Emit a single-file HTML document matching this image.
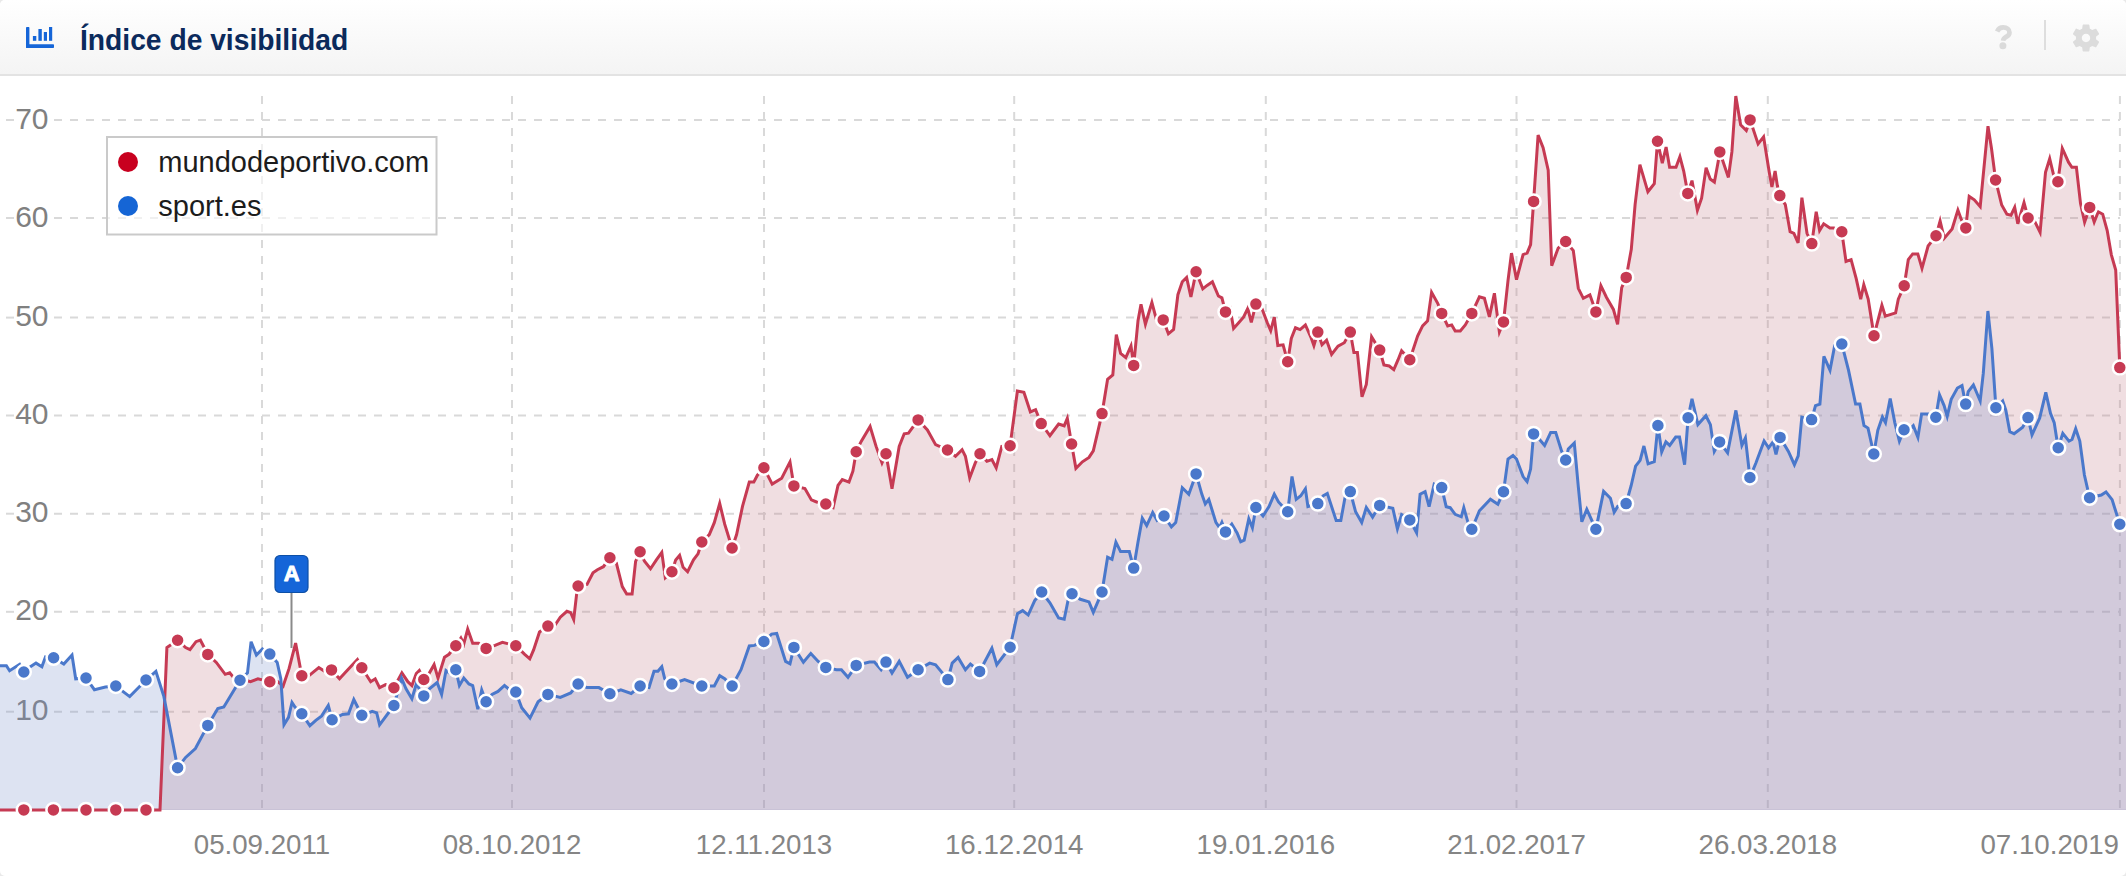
<!DOCTYPE html>
<html lang="es"><head><meta charset="utf-8"><title>Índice de visibilidad</title>
<style>
html,body{margin:0;padding:0;}
body{width:2126px;height:876px;overflow:hidden;background:#e9e9e9;position:relative;font-family:"Liberation Sans",Arial,sans-serif;}
.card{position:absolute;left:0;top:0;width:2126px;height:876px;background:#fff;border-radius:5px;overflow:hidden;}
.header{position:absolute;left:0;top:0;width:2126px;height:74px;background:linear-gradient(#ffffff,#f4f4f4);border-bottom:2px solid #e3e3e3;}
.hicon{position:absolute;left:26px;top:27px;}
.title{position:absolute;left:79.5px;top:21.8px;transform:scaleX(0.98);transform-origin:0 0;margin:0;font-size:28.8px;font-weight:bold;color:#0b2a5c;white-space:nowrap;line-height:36px;}
.qicon{position:absolute;left:1992px;top:21.9px;}
.sep{position:absolute;left:2044px;top:20px;width:2px;height:30px;background:#dedede;}
.gicon{position:absolute;left:2072.2px;top:23.9px;}
.chart{position:absolute;left:0;top:0;}
</style></head><body>
<div class="card">
<svg class="chart" width="2126" height="876" viewBox="0 0 2126 876"><g stroke="#d9d9d9" stroke-width="2" fill="none"><line x1="6" y1="120.0" x2="14" y2="120.0"/><line x1="54" y1="120.0" x2="2120" y2="120.0" stroke-dasharray="8 8"/><line x1="6" y1="218.0" x2="14" y2="218.0"/><line x1="54" y1="218.0" x2="2120" y2="218.0" stroke-dasharray="8 8"/><line x1="6" y1="317.6" x2="14" y2="317.6"/><line x1="54" y1="317.6" x2="2120" y2="317.6" stroke-dasharray="8 8"/><line x1="6" y1="415.5" x2="14" y2="415.5"/><line x1="54" y1="415.5" x2="2120" y2="415.5" stroke-dasharray="8 8"/><line x1="6" y1="513.7" x2="14" y2="513.7"/><line x1="54" y1="513.7" x2="2120" y2="513.7" stroke-dasharray="8 8"/><line x1="6" y1="611.8" x2="14" y2="611.8"/><line x1="54" y1="611.8" x2="2120" y2="611.8" stroke-dasharray="8 8"/><line x1="6" y1="711.7" x2="14" y2="711.7"/><line x1="54" y1="711.7" x2="2120" y2="711.7" stroke-dasharray="8 8"/><line x1="262" y1="96" x2="262" y2="810" stroke-dasharray="8 8"/><line x1="512" y1="96" x2="512" y2="810" stroke-dasharray="8 8"/><line x1="764" y1="96" x2="764" y2="810" stroke-dasharray="8 8"/><line x1="1014.2" y1="96" x2="1014.2" y2="810" stroke-dasharray="8 8"/><line x1="1265.8" y1="96" x2="1265.8" y2="810" stroke-dasharray="8 8"/><line x1="1516.5" y1="96" x2="1516.5" y2="810" stroke-dasharray="8 8"/><line x1="1767.8" y1="96" x2="1767.8" y2="810" stroke-dasharray="8 8"/><line x1="2119.9" y1="96" x2="2119.9" y2="810" stroke-dasharray="8 8"/></g><g font-family="Liberation Sans, Arial, sans-serif" font-size="30" fill="#808080" text-anchor="end"><text x="48.5" y="128.6">70</text><text x="48.5" y="226.6">60</text><text x="48.5" y="326.2">50</text><text x="48.5" y="424.1">40</text><text x="48.5" y="522.3">30</text><text x="48.5" y="620.4">20</text><text x="48.5" y="720.3">10</text></g><path d="M0,810 L0,809.9 L23.8,809.9 L53.4,809.9 L86,809.9 L115.8,809.9 L146,809.9 L160,809.9 L166.9,647.6 L177.6,640.2 L185.6,647.6 L190,649.7 L196,641.7 L200.4,640.2 L207.8,654.4 L216.3,662.4 L225.2,674.3 L229.7,672.8 L232.7,676.4 L240,678.8 L250.5,681.7 L257.9,678.8 L269.8,681.7 L277.8,681.7 L283.1,686.2 L289.1,668.4 L295.6,643.1 L301.8,675.8 L306.9,677.3 L318.8,667.5 L324.7,671.3 L331.5,669.9 L339.5,678.8 L345.5,672.2 L357.4,659.5 L361.8,667.8 L370.7,681.7 L375.2,678.8 L379.6,687.7 L385.6,684.7 L393.9,687.7 L401.9,672.8 L407.8,681.7 L411.9,685.5 L416.3,673.6 L419.3,670.6 L423.8,679.5 L428.2,675.1 L434.1,664.7 L438,678.1 L444.5,657.3 L449,654.3 L455.8,645.7 L460.9,638 L463.8,643.9 L467.7,629.1 L472.7,643.3 L478.7,643.3 L486.1,648.4 L495,645.4 L502.4,642.4 L515.8,645.7 L524.7,654.3 L529.8,658.8 L533.6,649.9 L539.5,632 L547.9,626.1 L554.4,626.1 L560.3,617.2 L566.9,611.3 L570.7,612.7 L573.7,619.6 L576.7,593.4 L578.1,586 L587,584.5 L593,572.7 L597.4,569.7 L603.4,566.7 L609.9,557.8 L616.3,562.8 L622.3,586.6 L626.7,594 L632.1,594 L635.6,561.3 L640.1,551.8 L644.5,561.3 L650.5,568.8 L656.4,559.9 L661.8,552.4 L665.3,577.7 L671.9,571.7 L675.7,559.9 L679.6,555.4 L683.1,567.3 L687.6,571.7 L693.5,559.9 L698,553.9 L701.8,542 L709.3,534.6 L714.3,522.7 L719.7,503.4 L724.7,524.2 L732.1,548 L736.6,534.6 L742.5,506.4 L749.3,482.1 L753.8,482.1 L757.4,475.2 L763.9,467.8 L772.2,484.1 L781.7,478.2 L790,461.9 L793.9,485.9 L804.9,488.6 L811.4,499.9 L816.6,502 L825.8,504 L833.1,507.6 L838,485.4 L842.3,479.5 L849,482.1 L852.9,471.2 L856.2,451.7 L861.2,441.4 L870.1,426.5 L876.1,446.4 L882,462.9 L886,453.7 L892,488.7 L899.2,446.4 L904.2,433.8 L908.5,433.2 L918.1,419.9 L927.4,429.9 L935.6,444.7 L947.5,450 L955.5,456.3 L962.1,449.7 L965.4,456.3 L969.7,477.8 L975.3,462.9 L980,453.7 L986.9,461.3 L991.9,459.6 L996.2,467.9 L1001.8,446.4 L1010.1,445.7 L1017.4,391 L1023.9,392.3 L1030.4,411.9 L1035.6,409.7 L1041.2,423.6 L1049.9,435.7 L1058.6,424 L1064.2,425.8 L1067.3,418.4 L1071.6,444 L1075.9,468.3 L1082.4,461.8 L1089,457.4 L1093.3,450.9 L1102,413.6 L1107.6,379.3 L1112.8,375 L1116.3,334.6 L1120.6,353.3 L1125.8,357.6 L1131,345.9 L1133.7,365.4 L1138,320.8 L1141,304.3 L1145.4,324.2 L1151.9,302.5 L1156.2,318.6 L1163.2,319.9 L1168.4,333.8 L1173.6,329.4 L1177.9,294.7 L1182.3,281.7 L1186.6,277.4 L1190.9,296.9 L1196.1,271.7 L1202.8,288.9 L1207.1,285.4 L1212.4,281.8 L1218.4,296 L1221.9,297.8 L1225.5,311.9 L1230.1,308.4 L1233.6,328.5 L1238.9,322.5 L1243.5,317.2 L1247.8,308.4 L1251.3,322.5 L1255.9,304.1 L1261.9,308.4 L1267.2,322.5 L1270.7,330.7 L1274.3,317.2 L1277.8,345.5 L1283.1,344.8 L1287.7,361.8 L1291.3,338.4 L1295.5,327.8 L1300.1,329.6 L1305.4,325 L1311.4,338.4 L1313.9,345.5 L1317.8,332.1 L1322,344.8 L1326.6,340.2 L1331.6,354.4 L1338,346.2 L1344.3,342.7 L1350.3,332.1 L1353.9,352.6 L1357.4,352.6 L1362,396.8 L1366.3,384.4 L1371.6,336.7 L1379.7,350.1 L1383.9,365 L1389.2,366 L1393.8,369.6 L1398.1,359.7 L1401.6,350.8 L1409.8,359.7 L1417.6,336 L1422.6,325.9 L1427.6,320.9 L1431.6,292.3 L1437.7,303.3 L1441.7,313.4 L1447.7,325.9 L1451.7,324.9 L1455.2,330.9 L1460.3,330.9 L1465.3,324.9 L1471.8,313.4 L1479.4,296.8 L1484.4,298.3 L1489.4,316.9 L1494.4,293.3 L1499.4,332 L1503.5,321.9 L1508,280.7 L1511.5,253.1 L1516.5,279.7 L1523.1,254.6 L1527.1,253.1 L1530.6,244.6 L1533.6,201.4 L1538.1,135.1 L1543.1,147.6 L1548.2,170.2 L1551.7,265.7 L1558.2,248.1 L1565.7,241.5 L1573.3,250.6 L1578.3,288.3 L1583.3,298.3 L1589.9,294.8 L1595.9,311.9 L1600.9,285.7 L1606.4,297.2 L1613.4,309.4 L1617.6,324.4 L1621.7,287.6 L1626.2,277.4 L1631.3,249.3 L1635.1,204.6 L1639.9,164.7 L1647.9,191.8 L1654.3,183.8 L1657.5,141.3 L1662.3,163.1 L1666.1,147.1 L1669.6,167.2 L1676,167.2 L1679.9,156.7 L1683.7,171 L1687.8,193.4 L1692,180.6 L1697.4,210.3 L1701.6,198.2 L1706.1,167.8 L1710.2,179 L1714.4,182.2 L1718.2,161.5 L1719.8,151.9 L1724.6,166.3 L1728.4,177.4 L1731.9,151.9 L1735.8,96 L1740.6,124.7 L1746.3,130.5 L1750.1,119.9 L1758.1,143.9 L1763.6,136.9 L1769.3,172.6 L1771.9,187 L1775.1,171 L1777.3,185.4 L1779.8,195.6 L1785.3,204.6 L1790.1,231.7 L1793.9,233.3 L1798.1,242.9 L1801.9,197.6 L1807,233.3 L1811.8,243.6 L1816.2,211.8 L1819.6,230.6 L1823.7,223.8 L1829.9,227.9 L1834,227.9 L1841.8,231.7 L1846,261.5 L1851.1,259.7 L1856.2,278.6 L1860.7,299.1 L1863.8,284.7 L1868.2,299.1 L1874,335.7 L1881.9,305.3 L1885.3,316.2 L1895.6,312.8 L1898.3,299.1 L1904.2,285.8 L1908.3,259.7 L1912.7,253.9 L1917.8,253.9 L1922,268.3 L1928.1,246 L1936,235.8 L1940.1,221.1 L1944.2,238.2 L1952.1,228.9 L1957.9,210.1 L1961.7,220.4 L1965.8,227.9 L1969.2,196.4 L1974.3,199.8 L1980.2,206.7 L1988,126.2 L1991.5,148.5 L1995.6,180 L2001.7,205 L2006.9,214.2 L2011,215.2 L2014.7,207.4 L2017.8,223.8 L2024,202.6 L2028.1,218 L2034.2,220.4 L2040.1,232.4 L2045.5,172.4 L2049.7,158.7 L2053.8,175.9 L2057.9,181.7 L2062.3,148.5 L2068.5,162.2 L2071.9,167.3 L2076.4,167.3 L2080.5,203.3 L2084.6,222.1 L2089.7,207.4 L2094.2,222.1 L2098.3,211.8 L2102.7,214.2 L2107.2,230.6 L2111.3,254.6 L2115.7,270 L2119.8,367.6 L2126,367.6 L2126,810 Z" fill="rgba(195,123,135,0.25)"/><path d="M0,810 L0,665.8 L6.4,665.8 L9.6,670.7 L19.6,664.3 L23.8,672 L30.4,666.7 L36,663.1 L41.9,666.7 L45.5,656.8 L53.6,657.8 L63.8,664 L72,655 L75.7,678.8 L86,678 L94.4,689.7 L105.4,687 L115.8,686 L129.7,696.6 L146,680 L155.9,671.3 L163.9,696.6 L177.6,767.8 L185.6,757.4 L195.4,748.5 L207.8,725.4 L217.8,708.5 L223.8,707 L240,680.2 L247.5,672.8 L251.1,641.7 L256.4,655 L262.4,649 L269.8,654.1 L277.2,662.4 L280.8,678.8 L284,724.8 L288.5,717.4 L292,702.5 L295,707 L301.8,713.8 L309.9,725.7 L315.8,720.3 L321.7,715.9 L328.3,705.5 L332.1,719.7 L342.5,714.4 L348.5,713.8 L353.8,699.5 L361.8,715.3 L372.2,711.4 L376.7,712.9 L379.6,724.8 L393.9,705.5 L401.5,678 L405.9,688.5 L411.9,698.8 L416.3,684 L423.8,695.9 L429.7,688.5 L437.1,682.5 L441.6,694.4 L446,670.6 L450.5,673.6 L455.8,669.7 L459.4,685.5 L463.8,678.1 L468.9,684 L472.7,685.5 L477.8,709.2 L481.7,689.9 L486.1,701.8 L492,694.4 L498,691.4 L504.5,685.5 L509.9,689.9 L515.8,692 L521.7,707.8 L530,718.1 L538.1,701.8 L547.9,694.4 L560.3,697.4 L570.7,692.9 L578.1,684 L587,687.6 L598.9,687.6 L609.9,693.8 L620.8,689.9 L631.2,693.5 L640.1,686 L649,687.5 L654,671.2 L657.9,671.2 L661.8,666.7 L664.7,678.6 L671.9,684 L684.6,679.5 L701.8,686 L714.3,686 L719.7,675.7 L724.7,678.6 L732.1,686 L741,669.7 L749.3,646 L754.4,645.4 L763.9,641.5 L771.6,634.1 L776.7,633.5 L785.6,661.4 L790,663.8 L793.9,647.4 L803.4,662.3 L810.8,653.4 L818.2,661.4 L825.8,667.4 L836.4,669.7 L841.4,669.7 L848,677.3 L856.2,665.4 L869.5,662.1 L874.4,662.1 L881.1,669.7 L886,662.1 L892,673 L899.2,661.4 L907.5,677.3 L918.1,669.7 L929.7,663.1 L935.6,664.7 L947.9,679.6 L952.2,663.1 L958.1,657.5 L965.4,669.7 L970.4,664.1 L979.6,671.4 L991.9,648.2 L996.8,664.7 L1010.1,647.2 L1017.4,613.7 L1022.6,610.6 L1028.2,615 L1034.7,600.6 L1041.7,592 L1049.9,602.8 L1058.6,618 L1064.2,619.3 L1068.6,597.6 L1072,593.7 L1080.3,599.3 L1089,601.9 L1093.3,612.4 L1102,592 L1107.6,557.2 L1112,559.4 L1115.9,542.1 L1120.6,551.6 L1129.3,551.6 L1133.7,568.1 L1138,542.1 L1142.3,518.2 L1146.7,525.6 L1152.7,512.6 L1157.1,520.4 L1164,516 L1171.4,526.9 L1175.7,522.5 L1182.3,487.8 L1188.8,494.3 L1196.1,473.9 L1201.8,494.1 L1205.3,504 L1208.8,499.4 L1215.9,522.4 L1219.5,527.7 L1221.9,522.4 L1225.5,531.9 L1231.8,524.1 L1237.1,533 L1240.7,541.8 L1244.2,540.1 L1248.8,518.8 L1252.4,527.7 L1255.9,507.5 L1263,516 L1269,506.5 L1274.3,494.1 L1278.5,501.9 L1287.7,511.8 L1292,476.4 L1296.2,499.4 L1300.8,495.8 L1305.4,488.8 L1307.9,506.5 L1317.8,503.6 L1323.1,495.8 L1327.3,493.4 L1336.2,520.6 L1340.8,520.6 L1345,497.6 L1350.3,491.6 L1355.6,511.8 L1361.7,522.4 L1366.3,507.5 L1372.6,517.1 L1379.7,505.4 L1392.8,508.2 L1397.4,528.7 L1401.6,514.6 L1409.8,519.9 L1416.6,532.9 L1420.1,494.2 L1425.1,491.7 L1429.1,506.7 L1434.2,484.1 L1441.7,487.6 L1446.2,506.7 L1450.2,507.7 L1455.2,514.3 L1461.3,516.8 L1463.8,507.7 L1467.8,521.8 L1471.8,529.3 L1479.4,510.8 L1490.4,499.2 L1497.9,504.2 L1503.5,491.7 L1508,459 L1513,455.5 L1516.5,459 L1523.1,476.6 L1527.1,481.6 L1530.6,469.1 L1533.6,433.9 L1538.1,437.9 L1544.6,445.5 L1550.7,432.4 L1555.7,432.4 L1561.7,451.5 L1565.7,460 L1568.3,449 L1574.3,443 L1578.3,486.7 L1581.8,521.8 L1586.8,509.3 L1595.9,529.3 L1603.6,491.4 L1610.4,498.2 L1614.2,512.2 L1617.8,506.3 L1626.1,503.6 L1631.2,485.5 L1635.6,466.2 L1640.1,460.3 L1643.9,446 L1648.1,463.8 L1654.3,461.7 L1657.9,425.5 L1661.7,451.9 L1665.9,441.9 L1669.7,445.4 L1675.7,437.1 L1679.5,437.1 L1684.6,464.7 L1688.1,417.8 L1692,398.8 L1697.9,424.6 L1705.9,415.7 L1710.4,424.6 L1714.3,451.4 L1719.6,441.9 L1727.6,452.8 L1735.9,410.4 L1741.9,445.4 L1745.4,438 L1749.9,477.5 L1755.8,463.2 L1764.1,441 L1768.6,447.8 L1773,441.9 L1776,454.3 L1780.1,437.4 L1788.4,451.4 L1794.4,464.7 L1798.2,455.8 L1801.8,417.2 L1811.6,419.6 L1815.5,405.6 L1819.9,404.1 L1823.9,356.3 L1830,370.2 L1834.7,345.5 L1841.8,344 L1848.5,370.2 L1855.6,404.1 L1859.9,404.1 L1864,425.6 L1868,428.1 L1873.8,454 L1877.8,430.3 L1882.4,417 L1885.5,422.6 L1890.2,398.5 L1894.8,422.6 L1899.4,441.1 L1904,429.7 L1908.7,430.3 L1913.3,425.6 L1917.9,437.4 L1921.6,413.9 L1928.7,413.9 L1935.8,417.3 L1939.5,394.8 L1944.1,405.6 L1947.2,416.4 L1951.2,399.4 L1957.4,388 L1962,385.6 L1964.1,396.4 L1965.7,404.1 L1968.2,391.7 L1973.4,385 L1980.2,401 L1983.3,373.2 L1987.9,311 L1991.9,348.6 L1995.9,407.8 L2002.7,401 L2005.8,410.2 L2009.8,431.8 L2014.1,433.7 L2022.7,427.2 L2028,417.6 L2032,434.9 L2039.7,417.9 L2045.8,392.4 L2050.5,413.3 L2054.2,422.6 L2056.6,438 L2058.2,447.8 L2062.8,433.4 L2069,441.1 L2072,439.5 L2075.7,428.7 L2079.8,441.1 L2084.4,475 L2089.6,497.8 L2101.3,495 L2106,491.9 L2112.1,499.6 L2119.8,524.3 L2126,524.3 L2126,810 Z" fill="rgba(119,143,203,0.25)"/><line x1="0" y1="809.5" x2="2126" y2="809.5" stroke="#c9c2d6" stroke-width="1"/><polyline points="0,809.9 23.8,809.9 53.4,809.9 86,809.9 115.8,809.9 146,809.9 160,809.9 166.9,647.6 177.6,640.2 185.6,647.6 190,649.7 196,641.7 200.4,640.2 207.8,654.4 216.3,662.4 225.2,674.3 229.7,672.8 232.7,676.4 240,678.8 250.5,681.7 257.9,678.8 269.8,681.7 277.8,681.7 283.1,686.2 289.1,668.4 295.6,643.1 301.8,675.8 306.9,677.3 318.8,667.5 324.7,671.3 331.5,669.9 339.5,678.8 345.5,672.2 357.4,659.5 361.8,667.8 370.7,681.7 375.2,678.8 379.6,687.7 385.6,684.7 393.9,687.7 401.9,672.8 407.8,681.7 411.9,685.5 416.3,673.6 419.3,670.6 423.8,679.5 428.2,675.1 434.1,664.7 438,678.1 444.5,657.3 449,654.3 455.8,645.7 460.9,638 463.8,643.9 467.7,629.1 472.7,643.3 478.7,643.3 486.1,648.4 495,645.4 502.4,642.4 515.8,645.7 524.7,654.3 529.8,658.8 533.6,649.9 539.5,632 547.9,626.1 554.4,626.1 560.3,617.2 566.9,611.3 570.7,612.7 573.7,619.6 576.7,593.4 578.1,586 587,584.5 593,572.7 597.4,569.7 603.4,566.7 609.9,557.8 616.3,562.8 622.3,586.6 626.7,594 632.1,594 635.6,561.3 640.1,551.8 644.5,561.3 650.5,568.8 656.4,559.9 661.8,552.4 665.3,577.7 671.9,571.7 675.7,559.9 679.6,555.4 683.1,567.3 687.6,571.7 693.5,559.9 698,553.9 701.8,542 709.3,534.6 714.3,522.7 719.7,503.4 724.7,524.2 732.1,548 736.6,534.6 742.5,506.4 749.3,482.1 753.8,482.1 757.4,475.2 763.9,467.8 772.2,484.1 781.7,478.2 790,461.9 793.9,485.9 804.9,488.6 811.4,499.9 816.6,502 825.8,504 833.1,507.6 838,485.4 842.3,479.5 849,482.1 852.9,471.2 856.2,451.7 861.2,441.4 870.1,426.5 876.1,446.4 882,462.9 886,453.7 892,488.7 899.2,446.4 904.2,433.8 908.5,433.2 918.1,419.9 927.4,429.9 935.6,444.7 947.5,450 955.5,456.3 962.1,449.7 965.4,456.3 969.7,477.8 975.3,462.9 980,453.7 986.9,461.3 991.9,459.6 996.2,467.9 1001.8,446.4 1010.1,445.7 1017.4,391 1023.9,392.3 1030.4,411.9 1035.6,409.7 1041.2,423.6 1049.9,435.7 1058.6,424 1064.2,425.8 1067.3,418.4 1071.6,444 1075.9,468.3 1082.4,461.8 1089,457.4 1093.3,450.9 1102,413.6 1107.6,379.3 1112.8,375 1116.3,334.6 1120.6,353.3 1125.8,357.6 1131,345.9 1133.7,365.4 1138,320.8 1141,304.3 1145.4,324.2 1151.9,302.5 1156.2,318.6 1163.2,319.9 1168.4,333.8 1173.6,329.4 1177.9,294.7 1182.3,281.7 1186.6,277.4 1190.9,296.9 1196.1,271.7 1202.8,288.9 1207.1,285.4 1212.4,281.8 1218.4,296 1221.9,297.8 1225.5,311.9 1230.1,308.4 1233.6,328.5 1238.9,322.5 1243.5,317.2 1247.8,308.4 1251.3,322.5 1255.9,304.1 1261.9,308.4 1267.2,322.5 1270.7,330.7 1274.3,317.2 1277.8,345.5 1283.1,344.8 1287.7,361.8 1291.3,338.4 1295.5,327.8 1300.1,329.6 1305.4,325 1311.4,338.4 1313.9,345.5 1317.8,332.1 1322,344.8 1326.6,340.2 1331.6,354.4 1338,346.2 1344.3,342.7 1350.3,332.1 1353.9,352.6 1357.4,352.6 1362,396.8 1366.3,384.4 1371.6,336.7 1379.7,350.1 1383.9,365 1389.2,366 1393.8,369.6 1398.1,359.7 1401.6,350.8 1409.8,359.7 1417.6,336 1422.6,325.9 1427.6,320.9 1431.6,292.3 1437.7,303.3 1441.7,313.4 1447.7,325.9 1451.7,324.9 1455.2,330.9 1460.3,330.9 1465.3,324.9 1471.8,313.4 1479.4,296.8 1484.4,298.3 1489.4,316.9 1494.4,293.3 1499.4,332 1503.5,321.9 1508,280.7 1511.5,253.1 1516.5,279.7 1523.1,254.6 1527.1,253.1 1530.6,244.6 1533.6,201.4 1538.1,135.1 1543.1,147.6 1548.2,170.2 1551.7,265.7 1558.2,248.1 1565.7,241.5 1573.3,250.6 1578.3,288.3 1583.3,298.3 1589.9,294.8 1595.9,311.9 1600.9,285.7 1606.4,297.2 1613.4,309.4 1617.6,324.4 1621.7,287.6 1626.2,277.4 1631.3,249.3 1635.1,204.6 1639.9,164.7 1647.9,191.8 1654.3,183.8 1657.5,141.3 1662.3,163.1 1666.1,147.1 1669.6,167.2 1676,167.2 1679.9,156.7 1683.7,171 1687.8,193.4 1692,180.6 1697.4,210.3 1701.6,198.2 1706.1,167.8 1710.2,179 1714.4,182.2 1718.2,161.5 1719.8,151.9 1724.6,166.3 1728.4,177.4 1731.9,151.9 1735.8,96 1740.6,124.7 1746.3,130.5 1750.1,119.9 1758.1,143.9 1763.6,136.9 1769.3,172.6 1771.9,187 1775.1,171 1777.3,185.4 1779.8,195.6 1785.3,204.6 1790.1,231.7 1793.9,233.3 1798.1,242.9 1801.9,197.6 1807,233.3 1811.8,243.6 1816.2,211.8 1819.6,230.6 1823.7,223.8 1829.9,227.9 1834,227.9 1841.8,231.7 1846,261.5 1851.1,259.7 1856.2,278.6 1860.7,299.1 1863.8,284.7 1868.2,299.1 1874,335.7 1881.9,305.3 1885.3,316.2 1895.6,312.8 1898.3,299.1 1904.2,285.8 1908.3,259.7 1912.7,253.9 1917.8,253.9 1922,268.3 1928.1,246 1936,235.8 1940.1,221.1 1944.2,238.2 1952.1,228.9 1957.9,210.1 1961.7,220.4 1965.8,227.9 1969.2,196.4 1974.3,199.8 1980.2,206.7 1988,126.2 1991.5,148.5 1995.6,180 2001.7,205 2006.9,214.2 2011,215.2 2014.7,207.4 2017.8,223.8 2024,202.6 2028.1,218 2034.2,220.4 2040.1,232.4 2045.5,172.4 2049.7,158.7 2053.8,175.9 2057.9,181.7 2062.3,148.5 2068.5,162.2 2071.9,167.3 2076.4,167.3 2080.5,203.3 2084.6,222.1 2089.7,207.4 2094.2,222.1 2098.3,211.8 2102.7,214.2 2107.2,230.6 2111.3,254.6 2115.7,270 2119.8,367.6" fill="none" stroke="#c63a53" stroke-width="3" stroke-linejoin="miter" stroke-miterlimit="4" stroke-linecap="butt"/><polyline points="0,665.8 6.4,665.8 9.6,670.7 19.6,664.3 23.8,672 30.4,666.7 36,663.1 41.9,666.7 45.5,656.8 53.6,657.8 63.8,664 72,655 75.7,678.8 86,678 94.4,689.7 105.4,687 115.8,686 129.7,696.6 146,680 155.9,671.3 163.9,696.6 177.6,767.8 185.6,757.4 195.4,748.5 207.8,725.4 217.8,708.5 223.8,707 240,680.2 247.5,672.8 251.1,641.7 256.4,655 262.4,649 269.8,654.1 277.2,662.4 280.8,678.8 284,724.8 288.5,717.4 292,702.5 295,707 301.8,713.8 309.9,725.7 315.8,720.3 321.7,715.9 328.3,705.5 332.1,719.7 342.5,714.4 348.5,713.8 353.8,699.5 361.8,715.3 372.2,711.4 376.7,712.9 379.6,724.8 393.9,705.5 401.5,678 405.9,688.5 411.9,698.8 416.3,684 423.8,695.9 429.7,688.5 437.1,682.5 441.6,694.4 446,670.6 450.5,673.6 455.8,669.7 459.4,685.5 463.8,678.1 468.9,684 472.7,685.5 477.8,709.2 481.7,689.9 486.1,701.8 492,694.4 498,691.4 504.5,685.5 509.9,689.9 515.8,692 521.7,707.8 530,718.1 538.1,701.8 547.9,694.4 560.3,697.4 570.7,692.9 578.1,684 587,687.6 598.9,687.6 609.9,693.8 620.8,689.9 631.2,693.5 640.1,686 649,687.5 654,671.2 657.9,671.2 661.8,666.7 664.7,678.6 671.9,684 684.6,679.5 701.8,686 714.3,686 719.7,675.7 724.7,678.6 732.1,686 741,669.7 749.3,646 754.4,645.4 763.9,641.5 771.6,634.1 776.7,633.5 785.6,661.4 790,663.8 793.9,647.4 803.4,662.3 810.8,653.4 818.2,661.4 825.8,667.4 836.4,669.7 841.4,669.7 848,677.3 856.2,665.4 869.5,662.1 874.4,662.1 881.1,669.7 886,662.1 892,673 899.2,661.4 907.5,677.3 918.1,669.7 929.7,663.1 935.6,664.7 947.9,679.6 952.2,663.1 958.1,657.5 965.4,669.7 970.4,664.1 979.6,671.4 991.9,648.2 996.8,664.7 1010.1,647.2 1017.4,613.7 1022.6,610.6 1028.2,615 1034.7,600.6 1041.7,592 1049.9,602.8 1058.6,618 1064.2,619.3 1068.6,597.6 1072,593.7 1080.3,599.3 1089,601.9 1093.3,612.4 1102,592 1107.6,557.2 1112,559.4 1115.9,542.1 1120.6,551.6 1129.3,551.6 1133.7,568.1 1138,542.1 1142.3,518.2 1146.7,525.6 1152.7,512.6 1157.1,520.4 1164,516 1171.4,526.9 1175.7,522.5 1182.3,487.8 1188.8,494.3 1196.1,473.9 1201.8,494.1 1205.3,504 1208.8,499.4 1215.9,522.4 1219.5,527.7 1221.9,522.4 1225.5,531.9 1231.8,524.1 1237.1,533 1240.7,541.8 1244.2,540.1 1248.8,518.8 1252.4,527.7 1255.9,507.5 1263,516 1269,506.5 1274.3,494.1 1278.5,501.9 1287.7,511.8 1292,476.4 1296.2,499.4 1300.8,495.8 1305.4,488.8 1307.9,506.5 1317.8,503.6 1323.1,495.8 1327.3,493.4 1336.2,520.6 1340.8,520.6 1345,497.6 1350.3,491.6 1355.6,511.8 1361.7,522.4 1366.3,507.5 1372.6,517.1 1379.7,505.4 1392.8,508.2 1397.4,528.7 1401.6,514.6 1409.8,519.9 1416.6,532.9 1420.1,494.2 1425.1,491.7 1429.1,506.7 1434.2,484.1 1441.7,487.6 1446.2,506.7 1450.2,507.7 1455.2,514.3 1461.3,516.8 1463.8,507.7 1467.8,521.8 1471.8,529.3 1479.4,510.8 1490.4,499.2 1497.9,504.2 1503.5,491.7 1508,459 1513,455.5 1516.5,459 1523.1,476.6 1527.1,481.6 1530.6,469.1 1533.6,433.9 1538.1,437.9 1544.6,445.5 1550.7,432.4 1555.7,432.4 1561.7,451.5 1565.7,460 1568.3,449 1574.3,443 1578.3,486.7 1581.8,521.8 1586.8,509.3 1595.9,529.3 1603.6,491.4 1610.4,498.2 1614.2,512.2 1617.8,506.3 1626.1,503.6 1631.2,485.5 1635.6,466.2 1640.1,460.3 1643.9,446 1648.1,463.8 1654.3,461.7 1657.9,425.5 1661.7,451.9 1665.9,441.9 1669.7,445.4 1675.7,437.1 1679.5,437.1 1684.6,464.7 1688.1,417.8 1692,398.8 1697.9,424.6 1705.9,415.7 1710.4,424.6 1714.3,451.4 1719.6,441.9 1727.6,452.8 1735.9,410.4 1741.9,445.4 1745.4,438 1749.9,477.5 1755.8,463.2 1764.1,441 1768.6,447.8 1773,441.9 1776,454.3 1780.1,437.4 1788.4,451.4 1794.4,464.7 1798.2,455.8 1801.8,417.2 1811.6,419.6 1815.5,405.6 1819.9,404.1 1823.9,356.3 1830,370.2 1834.7,345.5 1841.8,344 1848.5,370.2 1855.6,404.1 1859.9,404.1 1864,425.6 1868,428.1 1873.8,454 1877.8,430.3 1882.4,417 1885.5,422.6 1890.2,398.5 1894.8,422.6 1899.4,441.1 1904,429.7 1908.7,430.3 1913.3,425.6 1917.9,437.4 1921.6,413.9 1928.7,413.9 1935.8,417.3 1939.5,394.8 1944.1,405.6 1947.2,416.4 1951.2,399.4 1957.4,388 1962,385.6 1964.1,396.4 1965.7,404.1 1968.2,391.7 1973.4,385 1980.2,401 1983.3,373.2 1987.9,311 1991.9,348.6 1995.9,407.8 2002.7,401 2005.8,410.2 2009.8,431.8 2014.1,433.7 2022.7,427.2 2028,417.6 2032,434.9 2039.7,417.9 2045.8,392.4 2050.5,413.3 2054.2,422.6 2056.6,438 2058.2,447.8 2062.8,433.4 2069,441.1 2072,439.5 2075.7,428.7 2079.8,441.1 2084.4,475 2089.6,497.8 2101.3,495 2106,491.9 2112.1,499.6 2119.8,524.3" fill="none" stroke="#4a78cb" stroke-width="3" stroke-linejoin="miter" stroke-miterlimit="4" stroke-linecap="butt"/><g fill="#c63a53" stroke="#fff" stroke-width="2.5"><circle cx="23.8" cy="809.9" r="7"/><circle cx="53.4" cy="809.9" r="7"/><circle cx="86" cy="809.9" r="7"/><circle cx="115.8" cy="809.9" r="7"/><circle cx="146" cy="809.9" r="7"/><circle cx="177.6" cy="640.2" r="7"/><circle cx="207.8" cy="654.4" r="7"/><circle cx="269.8" cy="681.7" r="7"/><circle cx="301.8" cy="675.8" r="7"/><circle cx="331.5" cy="669.9" r="7"/><circle cx="361.8" cy="667.8" r="7"/><circle cx="393.9" cy="687.7" r="7"/><circle cx="423.8" cy="679.5" r="7"/><circle cx="455.8" cy="645.7" r="7"/><circle cx="486.1" cy="648.4" r="7"/><circle cx="515.8" cy="645.7" r="7"/><circle cx="547.9" cy="626.1" r="7"/><circle cx="578.1" cy="586" r="7"/><circle cx="609.9" cy="557.8" r="7"/><circle cx="640.1" cy="551.8" r="7"/><circle cx="671.9" cy="571.7" r="7"/><circle cx="701.8" cy="542" r="7"/><circle cx="732.1" cy="548" r="7"/><circle cx="763.9" cy="467.8" r="7"/><circle cx="793.9" cy="485.9" r="7"/><circle cx="825.8" cy="504" r="7"/><circle cx="856.2" cy="451.7" r="7"/><circle cx="886" cy="453.7" r="7"/><circle cx="918.1" cy="419.9" r="7"/><circle cx="947.5" cy="450" r="7"/><circle cx="980" cy="453.7" r="7"/><circle cx="1010.1" cy="445.7" r="7"/><circle cx="1041.2" cy="423.6" r="7"/><circle cx="1071.6" cy="444" r="7"/><circle cx="1102" cy="413.6" r="7"/><circle cx="1133.7" cy="365.4" r="7"/><circle cx="1163.2" cy="319.9" r="7"/><circle cx="1196.1" cy="271.7" r="7"/><circle cx="1225.5" cy="311.9" r="7"/><circle cx="1255.9" cy="304.1" r="7"/><circle cx="1287.7" cy="361.8" r="7"/><circle cx="1317.8" cy="332.1" r="7"/><circle cx="1350.3" cy="332.1" r="7"/><circle cx="1379.7" cy="350.1" r="7"/><circle cx="1409.8" cy="359.7" r="7"/><circle cx="1441.7" cy="313.4" r="7"/><circle cx="1471.8" cy="313.4" r="7"/><circle cx="1503.5" cy="321.9" r="7"/><circle cx="1533.6" cy="201.4" r="7"/><circle cx="1565.7" cy="241.5" r="7"/><circle cx="1595.9" cy="311.9" r="7"/><circle cx="1626.2" cy="277.4" r="7"/><circle cx="1657.5" cy="141.3" r="7"/><circle cx="1687.8" cy="193.4" r="7"/><circle cx="1719.8" cy="151.9" r="7"/><circle cx="1750.1" cy="119.9" r="7"/><circle cx="1779.8" cy="195.6" r="7"/><circle cx="1811.8" cy="243.6" r="7"/><circle cx="1841.8" cy="231.7" r="7"/><circle cx="1874" cy="335.7" r="7"/><circle cx="1904.2" cy="285.8" r="7"/><circle cx="1936" cy="235.8" r="7"/><circle cx="1965.8" cy="227.9" r="7"/><circle cx="1995.6" cy="180" r="7"/><circle cx="2028.1" cy="218" r="7"/><circle cx="2057.9" cy="181.7" r="7"/><circle cx="2089.7" cy="207.4" r="7"/><circle cx="2119.8" cy="367.6" r="7"/></g><g fill="#4a78cb" stroke="#fff" stroke-width="2.5"><circle cx="23.8" cy="672" r="7"/><circle cx="53.6" cy="657.8" r="7"/><circle cx="86" cy="678" r="7"/><circle cx="115.8" cy="686" r="7"/><circle cx="146" cy="680" r="7"/><circle cx="177.6" cy="767.8" r="7"/><circle cx="207.8" cy="725.4" r="7"/><circle cx="240" cy="680.2" r="7"/><circle cx="269.8" cy="654.1" r="7"/><circle cx="301.8" cy="713.8" r="7"/><circle cx="332.1" cy="719.7" r="7"/><circle cx="361.8" cy="715.3" r="7"/><circle cx="393.9" cy="705.5" r="7"/><circle cx="423.8" cy="695.9" r="7"/><circle cx="455.8" cy="669.7" r="7"/><circle cx="486.1" cy="701.8" r="7"/><circle cx="515.8" cy="692" r="7"/><circle cx="547.9" cy="694.4" r="7"/><circle cx="578.1" cy="684" r="7"/><circle cx="609.9" cy="693.8" r="7"/><circle cx="640.1" cy="686" r="7"/><circle cx="671.9" cy="684" r="7"/><circle cx="701.8" cy="686" r="7"/><circle cx="732.1" cy="686" r="7"/><circle cx="763.9" cy="641.5" r="7"/><circle cx="793.9" cy="647.4" r="7"/><circle cx="825.8" cy="667.4" r="7"/><circle cx="856.2" cy="665.4" r="7"/><circle cx="886" cy="662.1" r="7"/><circle cx="918.1" cy="669.7" r="7"/><circle cx="947.9" cy="679.6" r="7"/><circle cx="979.6" cy="671.4" r="7"/><circle cx="1010.1" cy="647.2" r="7"/><circle cx="1041.7" cy="592" r="7"/><circle cx="1072" cy="593.7" r="7"/><circle cx="1102" cy="592" r="7"/><circle cx="1133.7" cy="568.1" r="7"/><circle cx="1164" cy="516" r="7"/><circle cx="1196.1" cy="473.9" r="7"/><circle cx="1225.5" cy="531.9" r="7"/><circle cx="1255.9" cy="507.5" r="7"/><circle cx="1287.7" cy="511.8" r="7"/><circle cx="1317.8" cy="503.6" r="7"/><circle cx="1350.3" cy="491.6" r="7"/><circle cx="1379.7" cy="505.4" r="7"/><circle cx="1409.8" cy="519.9" r="7"/><circle cx="1441.7" cy="487.6" r="7"/><circle cx="1471.8" cy="529.3" r="7"/><circle cx="1503.5" cy="491.7" r="7"/><circle cx="1533.6" cy="433.9" r="7"/><circle cx="1565.7" cy="460" r="7"/><circle cx="1595.9" cy="529.3" r="7"/><circle cx="1626.1" cy="503.6" r="7"/><circle cx="1657.9" cy="425.5" r="7"/><circle cx="1688.1" cy="417.8" r="7"/><circle cx="1719.6" cy="441.9" r="7"/><circle cx="1749.9" cy="477.5" r="7"/><circle cx="1780.1" cy="437.4" r="7"/><circle cx="1811.6" cy="419.6" r="7"/><circle cx="1841.8" cy="344" r="7"/><circle cx="1873.8" cy="454" r="7"/><circle cx="1904" cy="429.7" r="7"/><circle cx="1935.8" cy="417.3" r="7"/><circle cx="1965.7" cy="404.1" r="7"/><circle cx="1995.9" cy="407.8" r="7"/><circle cx="2028" cy="417.6" r="7"/><circle cx="2058.2" cy="447.8" r="7"/><circle cx="2089.6" cy="497.8" r="7"/><circle cx="2119.8" cy="524.3" r="7"/></g><g font-family="Liberation Sans, Arial, sans-serif" font-size="27.7" fill="#858585"><text x="262" y="853.5" text-anchor="middle">05.09.2011</text><text x="512" y="853.5" text-anchor="middle">08.10.2012</text><text x="764" y="853.5" text-anchor="middle">12.11.2013</text><text x="1014.2" y="853.5" text-anchor="middle">16.12.2014</text><text x="1265.8" y="853.5" text-anchor="middle">19.01.2016</text><text x="1516.5" y="853.5" text-anchor="middle">21.02.2017</text><text x="1767.8" y="853.5" text-anchor="middle">26.03.2018</text><text x="2119" y="853.5" text-anchor="end">07.10.2019</text></g><line x1="291.5" y1="592" x2="291.5" y2="648" stroke="#8a8a8a" stroke-width="2"/><rect x="275" y="555.5" width="33" height="37" rx="5" ry="5" fill="#1565d8" stroke="#0d4fa6" stroke-width="1.2"/><text x="291.6" y="580.9" text-anchor="middle" font-family="Liberation Sans, Arial, sans-serif" font-weight="bold" font-size="22" fill="#fff" stroke="#fff" stroke-width="0.9" stroke-linejoin="round">A</text><rect x="107" y="137" width="329.5" height="97.5" fill="rgba(255,255,255,0.6)" stroke="#cacaca" stroke-width="2"/><circle cx="128" cy="162" r="10" fill="#c8001f"/><circle cx="128" cy="206" r="10" fill="#1565d5"/><g font-family="Liberation Sans, Arial, sans-serif" font-size="29" fill="#1c1c1c"><text x="158.3" y="172.3">mundodeportivo.com</text><text x="158.3" y="215.7">sport.es</text></g></svg>
<div class="header">
<svg class="hicon" width="30" height="24" viewBox="0 0 30 24">
<g fill="#1565d8">
<rect x="0" y="0" width="3.4" height="21" rx="0.8"/>
<rect x="0" y="17.3" width="28" height="3.7" rx="0.8"/>
<rect x="6.9" y="9" width="3.4" height="4.8"/>
<rect x="12.4" y="2" width="3.4" height="11.8"/>
<rect x="17.8" y="5" width="3.2" height="8.8"/>
<rect x="23" y="0" width="3.2" height="13.8"/>
</g></svg>
<h1 class="title">Índice de visibilidad</h1>
<svg class="qicon" width="24" height="30" viewBox="0 0 24 30">
<path d="M5.1 9.4 C6.2 7 8.4 5.4 11.3 5.4 C14.9 5.4 17.5 7.6 17.5 10.4 C17.5 12.7 15.9 13.9 14.1 14.9 C12.4 15.9 11.3 16.8 11.1 18.8" fill="none" stroke="#dadada" stroke-width="4.7" stroke-linecap="butt" stroke-linejoin="round"/>
<circle cx="10.9" cy="23.7" r="3.5" fill="#dadada"/>
</svg>
<div class="sep"></div>
<svg class="gicon" width="28" height="28" viewBox="2 2 20 20">
<path fill="#dcdcdc" fill-rule="evenodd" d="M19.14,12.94c0.04-0.3,0.06-0.61,0.06-0.94c0-0.32-0.02-0.64-0.07-0.94l2.03-1.58c0.18-0.14,0.23-0.41,0.12-0.61l-1.92-3.32c-0.12-0.22-0.37-0.29-0.59-0.22l-2.39,0.96c-0.5-0.38-1.030-0.7-1.62-0.94L14.4,2.81c-0.04-0.24-0.24-0.41-0.48-0.41h-3.84c-0.24,0-0.43,0.17-0.47,0.41L9.25,5.35C8.66,5.59,8.12,5.92,7.63,6.29L5.24,5.33c-0.22-0.08-0.47,0-0.59,0.22L2.74,8.87C2.62,9.08,2.66,9.34,2.86,9.48l2.03,1.58C4.84,11.36,4.8,11.690,4.8,12s0.02,0.64,0.07,0.94l-2.03,1.58c-0.18,0.14-0.23,0.41-0.12,0.61l1.92,3.32c0.12,0.22,0.37,0.29,0.59,0.22l2.39-0.96c0.5,0.38,1.03,0.7,1.62,0.94l0.36,2.54c0.05,0.24,0.24,0.41,0.48,0.41h3.84c0.24,0,0.44-0.17,0.47-0.41l0.36-2.54c0.59-0.24,1.13-0.56,1.62-0.94l2.39,0.96c0.22,0.08,0.47,0,0.59-0.22l1.92-3.32c0.12-0.22,0.07-0.47-0.12-0.61L19.14,12.94z M12,15c-1.66,0-3-1.34-3-3s1.34-3,3-3s3,1.34,3,3S13.66,15,12,15z"/>
</svg>
</div>
</div>
</body></html>
